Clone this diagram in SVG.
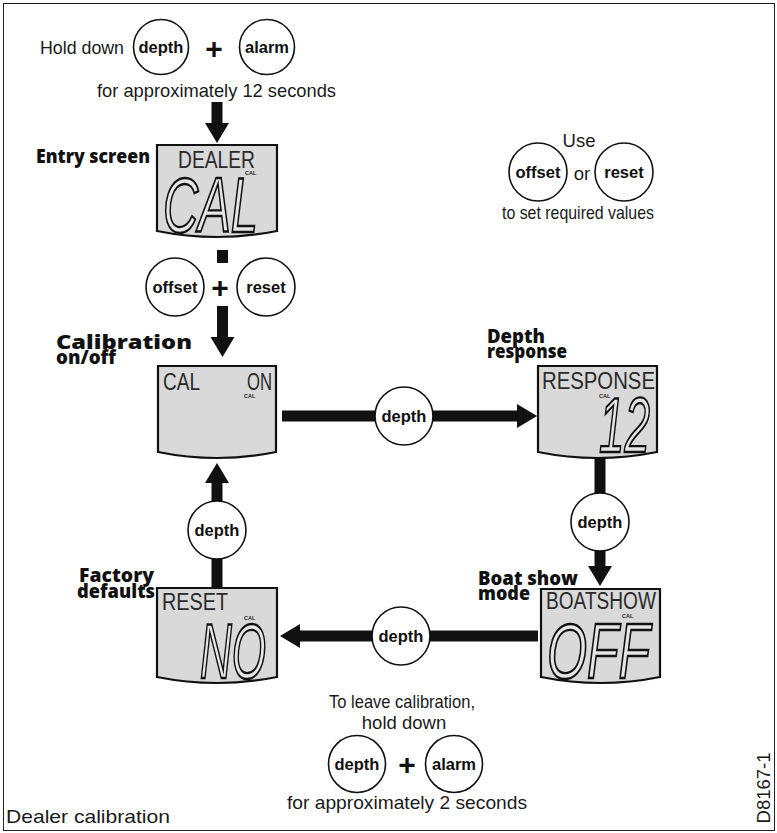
<svg xmlns="http://www.w3.org/2000/svg" width="777" height="833" viewBox="0 0 777 833">
<style>
  .t{font-family:"Liberation Sans",Arial,sans-serif;font-size:18.5px;fill:#1a1a1a}
  .h{font-family:"Open Sans","Liberation Sans",sans-serif;font-weight:800;font-size:19px;fill:#111}
  .btn{fill:#fff;stroke:#111;stroke-width:1.6}
  .bl{font-family:"Liberation Sans",Arial,sans-serif;font-weight:bold;font-size:16.5px;fill:#111;text-anchor:middle}
  .plus{font-family:"Liberation Sans",Arial,sans-serif;font-weight:bold;font-size:30px;fill:#111;text-anchor:middle}
  .scr{fill:#d9d9d9;stroke:#111;stroke-width:2.2}
  .lcds{font-family:"Liberation Sans",Arial,sans-serif;fill:#2a2a2a;font-size:23px}
  .lcdb{font-family:"Liberation Sans",Arial,sans-serif;font-style:italic;fill:#e6e6e6;stroke:#111;stroke-width:2.4;font-size:78px}
  .cal{font-family:"Liberation Sans",Arial,sans-serif;font-weight:bold;font-size:5.5px;fill:#222}
  .sh{stroke:#111;stroke-width:11;fill:none}
</style>
<defs>
  <marker id="ah" markerUnits="userSpaceOnUse" markerWidth="20" markerHeight="24" refX="0" refY="12" orient="auto" overflow="visible">
    <path d="M0,0 L20,12 L0,24 Z" fill="#111"/>
  </marker>
</defs>
<rect x="3.5" y="3.5" width="771" height="827" fill="#fff" stroke="#222" stroke-width="1"/>

<!-- connectors -->
<g id="connectors">
  <line class="sh" x1="217" y1="102" x2="217" y2="123" marker-end="url(#ah)"/>
  <line class="sh" x1="222.5" y1="250" x2="222.5" y2="263"/>
  <line class="sh" x1="222.5" y1="306" x2="222.5" y2="337" marker-end="url(#ah)"/>
  <line class="sh" x1="282" y1="416" x2="375" y2="416"/>
  <line class="sh" x1="433" y1="416" x2="517" y2="416" marker-end="url(#ah)"/>
  <line class="sh" x1="600" y1="458" x2="600" y2="494"/>
  <line class="sh" x1="600" y1="550" x2="600" y2="566" marker-end="url(#ah)"/>
  <line class="sh" x1="538" y1="636" x2="430" y2="636"/>
  <line class="sh" x1="372" y1="636" x2="300" y2="636" marker-end="url(#ah)"/>
  <line class="sh" x1="217" y1="588" x2="217" y2="559"/>
  <line class="sh" x1="217" y1="501" x2="217" y2="483" marker-end="url(#ah)"/>
</g>

<!-- top instruction -->
<g id="start">
  <text class="t" x="40" y="54" textLength="84" lengthAdjust="spacingAndGlyphs">Hold down</text>
  <circle class="btn" cx="161" cy="47" r="27.5"/>
  <text class="bl" x="161" y="53">depth</text>
  <text class="plus" x="214" y="59">+</text>
  <circle class="btn" cx="267" cy="47" r="27.5"/>
  <text class="bl" x="267" y="53">alarm</text>
  <text class="t" x="97" y="97" textLength="239" lengthAdjust="spacingAndGlyphs">for approximately 12 seconds</text>
</g>

<!-- use offset or reset -->
<g id="hint">
  <text class="t" x="579" y="147" text-anchor="middle">Use</text>
  <circle class="btn" cx="538" cy="172" r="29"/>
  <text class="bl" x="538" y="178">offset</text>
  <text class="t" x="582" y="180" text-anchor="middle">or</text>
  <circle class="btn" cx="624" cy="172" r="29"/>
  <text class="bl" x="624" y="178">reset</text>
  <text class="t" x="502" y="219" textLength="152" lengthAdjust="spacingAndGlyphs">to set required values</text>
</g>

<!-- entry screen -->
<g id="entry">
  <text class="h" x="150" y="163" text-anchor="end" textLength="114" lengthAdjust="spacingAndGlyphs">Entry screen</text>
  <path class="scr" d="M157,145 H277 V231 Q217,243 157,231 Z"/>
  <text class="lcds" x="178" y="168" textLength="77" lengthAdjust="spacingAndGlyphs">DEALER</text>
  <text class="cal" x="245" y="175">CAL</text>
  <text class="lcdb" x="163" y="232" textLength="95" lengthAdjust="spacingAndGlyphs">CAL</text>
</g>

<!-- offset + reset -->
<g id="enter-keys">
  <circle class="btn" cx="175" cy="287" r="29"/>
  <text class="bl" x="175" y="293">offset</text>
  <text class="plus" x="220" y="298">+</text>
  <circle class="btn" cx="266" cy="287" r="29"/>
  <text class="bl" x="266" y="293">reset</text>
</g>

<!-- calibration on/off -->
<g id="cal-onoff">
  <text class="h" x="56" y="349" textLength="136" lengthAdjust="spacingAndGlyphs">Calibration</text>
  <text class="h" x="56" y="364" textLength="60" lengthAdjust="spacingAndGlyphs">on/off</text>
  <path class="scr" d="M158,366 H276 V452 Q217,464 158,452 Z"/>
  <text class="lcds" x="163" y="390" textLength="37" lengthAdjust="spacingAndGlyphs">CAL</text>
  <text class="lcds" x="247" y="390" textLength="25" lengthAdjust="spacingAndGlyphs">ON</text>
  <text class="cal" x="244" y="398">CAL</text>
</g>

<!-- depth response -->
<g id="response">
  <text class="h" x="487" y="343" textLength="58" lengthAdjust="spacingAndGlyphs">Depth</text>
  <text class="h" x="487" y="358" textLength="80" lengthAdjust="spacingAndGlyphs">response</text>
  <path class="scr" d="M538,366 H657 V452 Q597.5,464 538,452 Z"/>
  <text class="lcds" x="542" y="389" textLength="113" lengthAdjust="spacingAndGlyphs">RESPONSE</text>
  <text class="cal" x="599" y="398">CAL</text>
  <text class="lcdb" x="599" y="452" font-size="64" textLength="51" lengthAdjust="spacingAndGlyphs">12</text>
</g>

<!-- boat show mode -->
<g id="boatshow">
  <text class="h" x="478" y="585" textLength="100" lengthAdjust="spacingAndGlyphs">Boat show</text>
  <text class="h" x="478" y="600" textLength="52" lengthAdjust="spacingAndGlyphs">mode</text>
  <path class="scr" d="M541,589 H660 V677 Q600.5,689 541,677 Z"/>
  <text class="lcds" x="546" y="609" textLength="110" lengthAdjust="spacingAndGlyphs">BOATSHOW</text>
  <text class="cal" x="622" y="618">CAL</text>
  <text class="lcdb" x="547" y="678" textLength="103" lengthAdjust="spacingAndGlyphs">OFF</text>
</g>

<!-- factory defaults -->
<g id="factory">
  <text class="h" x="154" y="582" text-anchor="end" textLength="75" lengthAdjust="spacingAndGlyphs">Factory</text>
  <text class="h" x="155" y="598" text-anchor="end" textLength="78" lengthAdjust="spacingAndGlyphs">defaults</text>
  <path class="scr" d="M157,588 H277 V677 Q217,689 157,677 Z"/>
  <text class="lcds" x="162" y="610" textLength="66" lengthAdjust="spacingAndGlyphs">RESET</text>
  <text class="cal" x="244" y="620">CAL</text>
  <text class="lcdb" x="200" y="678" textLength="66" lengthAdjust="spacingAndGlyphs">NO</text>
</g>

<!-- transition buttons -->
<g id="btn-cal-resp">
  <circle class="btn" cx="404" cy="416" r="29"/>
  <text class="bl" x="404" y="422">depth</text>
</g>
<g id="btn-resp-boat">
  <circle class="btn" cx="600" cy="522" r="29"/>
  <text class="bl" x="600" y="528">depth</text>
</g>
<g id="btn-boat-reset">
  <circle class="btn" cx="401" cy="636" r="29"/>
  <text class="bl" x="401" y="642">depth</text>
</g>
<g id="btn-reset-cal">
  <circle class="btn" cx="217" cy="530" r="29"/>
  <text class="bl" x="217" y="536">depth</text>
</g>

<!-- leave calibration -->
<g id="leave">
  <text class="t" x="402" y="708" text-anchor="middle" textLength="146" lengthAdjust="spacingAndGlyphs">To leave calibration,</text>
  <text class="t" x="404" y="729" text-anchor="middle">hold down</text>
  <circle class="btn" cx="357" cy="764" r="28.5"/>
  <text class="bl" x="357" y="770">depth</text>
  <text class="plus" x="407" y="775">+</text>
  <circle class="btn" cx="454" cy="764" r="28.5"/>
  <text class="bl" x="454" y="770">alarm</text>
  <text class="t" x="407" y="809" text-anchor="middle" textLength="240" lengthAdjust="spacingAndGlyphs">for approximately 2 seconds</text>
</g>

<text class="t" x="6" y="823" font-size="19" textLength="164" lengthAdjust="spacingAndGlyphs">Dealer calibration</text>
<text class="t" x="0" y="0" font-size="11" text-anchor="middle" transform="translate(770,788) rotate(-90)">D8167-1</text>
</svg>
